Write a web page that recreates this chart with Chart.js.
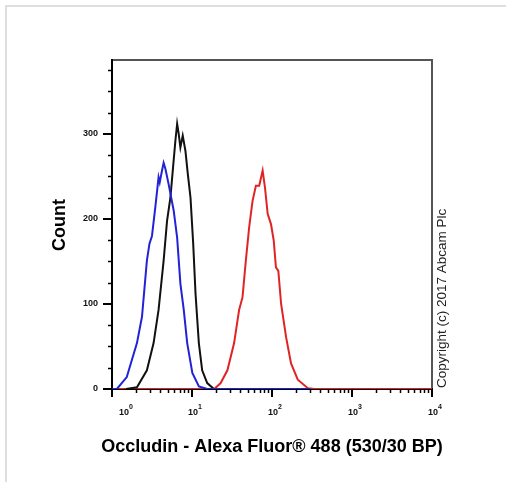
<!DOCTYPE html>
<html>
<head>
<meta charset="utf-8">
<script src="https://cdn.jsdelivr.net/npm/chart.js@4/dist/chart.umd.min.js"></script>
<style>
  html, body { margin: 0; padding: 0; background: #fff; }
  #wrap { position: relative; width: 506px; height: 482px; overflow: hidden; }
  #frame { position: absolute; left: 5px; top: 5px; right: -10px; bottom: -10px;
           border-top: 2px solid #dedede; border-left: 2px solid #dedede; }
  #histo { position: absolute; left: 0; top: 0; }
</style>
</head>
<body>
<div id="wrap">
  <div id="frame"></div>
  <canvas id="histo" width="506" height="482"></canvas>
</div>
<script>
// Occludin - Alexa Fluor 488 histogram
const blueX = [1, 1.15, 1.53, 2.05, 2.37, 2.73, 2.94, 3.16, 3.48, 3.82, 3.95, 4.22, 4.42, 4.65, 5.10, 5.90, 6.52, 7.16, 7.89, 8.71, 10.1, 12.2, 15.5, 300];
const blueY = [0, 0, 14, 54, 85, 151, 171, 180, 214, 249, 243, 257, 266, 259, 241, 210, 178, 124, 93, 54, 19, 3, 0, 0];

const blackX = [1.5, 2.05, 2.73, 3.31, 3.82, 4.42, 4.88, 5.37, 5.80, 6.20, 6.52, 6.82, 7.16, 7.66, 8.28, 8.86, 9.58, 10.35, 11.07, 12.18, 13.4, 15.5, 18.8, 300];
const blackY = [0, 2, 22, 54, 93, 151, 198, 225, 261, 292, 312, 300, 284, 298, 280, 253, 225, 171, 112, 54, 22, 7, 0, 0];

const redX = [1, 19, 22.8, 27.7, 33.6, 38.8, 42.8, 47.1, 51.8, 57.1, 62.9, 69.2, 76.4, 81.7, 88.3, 97.1, 105, 112, 120, 130, 150, 173, 210, 281, 337, 10000];
const redY = [0, 0, 7, 22, 54, 93, 108, 151, 190, 221, 239, 239, 257, 237, 206, 194, 175, 143, 139, 100, 61, 30, 11, 1, 0, 0];

const yTickValues = [0, 100, 200, 300];
const yTickLabels = ['0', '100', '200', '300'];
const yMinorTicks = [25, 50, 75, 125, 150, 175, 225, 250, 275, 325, 350, 375];

const xTickValues = [1, 10, 100, 1000, 10000];
const xTickExponents = ['0', '1', '2', '3', '4'];

const xTitle = 'Occludin - Alexa Fluor\u00ae 488 (530/30 BP)';
const yTitle = 'Count';
const copyright = 'Copyright (c) 2017 Abcam Plc';

function pairs(xs, ys) {
    return xs.map((v, i) => ({ x: v, y: ys[i] }));
}

// minor ticks of the log axis: 2..9 in each decade
const xMinorTicks = [];
for (let d = 1; d < 10000; d *= 10) {
    for (let k = 2; k <= 9; k++) xMinorTicks.push(k * d);
}

const flowAxes = {
    id: 'flowAxes',
    beforeDatasetsDraw(chart) {
        const { ctx, chartArea: a, scales: { x, y } } = chart;
        ctx.save();

        // top and right frame
        ctx.strokeStyle = '#555';
        ctx.lineWidth = 2;
        ctx.beginPath();
        ctx.moveTo(a.left, a.top);
        ctx.lineTo(a.right, a.top);
        ctx.lineTo(a.right, a.bottom);
        ctx.stroke();

        // axes
        ctx.strokeStyle = '#000';
        ctx.beginPath();
        ctx.moveTo(a.left, a.top - 1);
        ctx.lineTo(a.left, a.bottom);
        ctx.lineTo(a.right + 1, a.bottom);
        ctx.stroke();

        // y ticks
        yMinorTicks.forEach(v => {
            const py = Math.round(y.getPixelForValue(v)) + 0.5;
            ctx.lineWidth = 1.5;
            ctx.beginPath();
            ctx.moveTo(a.left - 4, py);
            ctx.lineTo(a.left, py);
            ctx.stroke();
        });
        ctx.font = 'bold 9px "Liberation Sans", Arial, sans-serif';
        ctx.fillStyle = '#111';
        ctx.textAlign = 'right';
        ctx.textBaseline = 'middle';
        yTickValues.forEach((v, i) => {
            const py = Math.round(y.getPixelForValue(v));
            ctx.lineWidth = 2;
            ctx.beginPath();
            ctx.moveTo(a.left - 9, py);
            ctx.lineTo(a.left, py);
            ctx.stroke();
            ctx.fillText(yTickLabels[i], a.left - 14, py);
        });

        // x ticks
        xMinorTicks.forEach(v => {
            const px = Math.round(x.getPixelForValue(v)) + 0.5;
            ctx.lineWidth = 1.5;
            ctx.beginPath();
            ctx.moveTo(px, a.bottom);
            ctx.lineTo(px, a.bottom + 4);
            ctx.stroke();
        });
        ctx.textBaseline = 'alphabetic';
        xTickValues.forEach((v, i) => {
            const px = Math.round(x.getPixelForValue(v));
            ctx.lineWidth = 2;
            ctx.beginPath();
            ctx.moveTo(px, a.bottom);
            ctx.lineTo(px, a.bottom + 8);
            ctx.stroke();
            const cx = Math.max(px + 1, a.left + 12);
            ctx.font = 'bold 9px "Liberation Sans", Arial, sans-serif';
            ctx.textAlign = 'center';
            ctx.fillText('10', cx, a.bottom + 26);
            ctx.font = 'bold 7px "Liberation Sans", Arial, sans-serif';
            ctx.textAlign = 'left';
            ctx.fillText(xTickExponents[i], cx + 5, a.bottom + 20);
        });

        // axis titles
        ctx.fillStyle = '#000';
        ctx.font = 'bold 18px "Liberation Sans", Arial, sans-serif';
        ctx.textAlign = 'center';
        ctx.textBaseline = 'middle';
        ctx.fillText(xTitle, (a.left + a.right) / 2, a.bottom + 58);

        ctx.save();
        ctx.translate(60, 225);
        ctx.rotate(-Math.PI / 2);
        ctx.font = 'bold 18px "Liberation Sans", Arial, sans-serif';
        ctx.fillText(yTitle, 0, 0);
        ctx.restore();

        ctx.save();
        ctx.translate(a.right + 10, a.bottom);
        ctx.rotate(-Math.PI / 2);
        ctx.font = '13.5px "Liberation Sans", Arial, sans-serif';
        ctx.fillStyle = '#222';
        ctx.textAlign = 'left';
        ctx.fillText(copyright, 1, 0);
        ctx.restore();

        ctx.restore();
    }
};

const ctx = document.getElementById('histo').getContext('2d');
new Chart(ctx, {
    type: 'line',
    data: {
        datasets: [
            { label: 'Isotype', data: pairs(blueX, blueY), borderColor: '#2222d6' },
            { label: 'Unlabelled', data: pairs(blackX, blackY), borderColor: '#111111' },
            { label: 'Occludin', data: pairs(redX, redY), borderColor: '#e02424' }
        ]
    },
    options: {
        responsive: false,
        animation: false,
        devicePixelRatio: 1,
        layout: { padding: { left: 112, right: 74, top: 60, bottom: 93 } },
        elements: {
            point: { radius: 0 },
            line: { borderWidth: 2, tension: 0, fill: false }
        },
        scales: {
            x: { type: 'logarithmic', min: 1, max: 10000, display: false },
            y: { type: 'linear', min: 0, max: 387, display: false }
        },
        plugins: {
            legend: { display: false },
            tooltip: { enabled: false }
        }
    },
    plugins: [flowAxes]
});
</script>
</body>
</html>
